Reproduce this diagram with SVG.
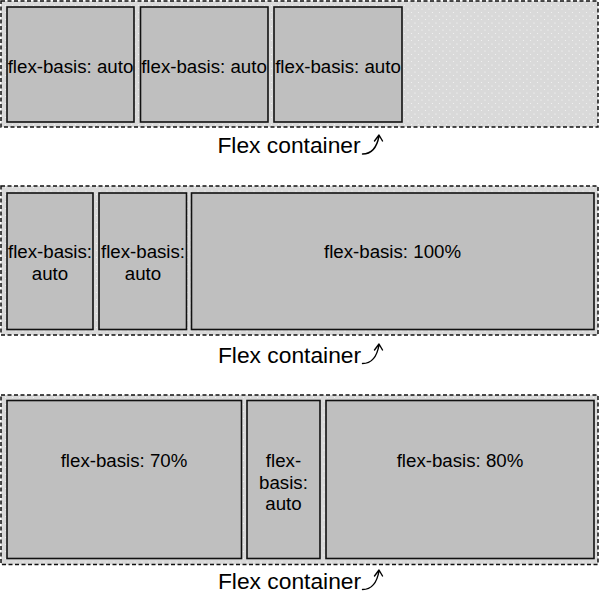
<svg xmlns="http://www.w3.org/2000/svg" width="600" height="594" viewBox="0 0 600 594">
<defs>
<pattern id="dots" width="7" height="7" patternUnits="userSpaceOnUse">
<rect width="7" height="7" fill="#d9d9d9"/>
<circle cx="2" cy="2" r="0.6" fill="#ffffff" opacity="0.9"/>
<circle cx="5.5" cy="5.5" r="0.6" fill="#ffffff" opacity="0.7"/>
</pattern>
<style>
.container{fill:url(#dots);stroke:#111;stroke-width:1.5;stroke-dasharray:4 2.5}
.item{fill:#bfbfbf;stroke:#111;stroke-width:1.6}
.t{font-family:"Liberation Sans",Arial,sans-serif;font-size:18.7px;fill:#000;text-anchor:middle}
.lbl{font-family:"Liberation Sans",Arial,sans-serif;font-size:22.8px;fill:#000;text-anchor:middle}
.arrow{fill:none;stroke:#000;stroke-width:1.4;stroke-linecap:round;stroke-linejoin:round}
</style>
</defs>
<rect width="600" height="594" fill="#ffffff"/>

<g id="container1">
<rect class="container" x="1" y="1" width="597" height="126"/>
<text class="lbl" x="289" y="153">Flex container</text>
</g>
<g id="c1-item1"><rect class="item" x="7" y="7" width="127" height="115"/><text class="t" x="70.5" y="72.5">flex-basis: auto</text></g>
<g id="c1-item2"><rect class="item" x="140.5" y="7" width="127.5" height="115"/><text class="t" x="204" y="72.5">flex-basis: auto</text></g>
<g id="c1-item3"><rect class="item" x="274" y="7" width="128" height="115"/><text class="t" x="338" y="72.5">flex-basis: auto</text></g>

<g id="container2">
<rect class="container" x="1" y="186" width="597" height="149"/>
<text class="lbl" x="289.5" y="362.5">Flex container</text>
</g>
<g id="c2-item1"><rect class="item" x="7" y="193" width="86" height="136.5"/><text class="t" x="50" y="258">flex-basis:</text><text class="t" x="50" y="279.5">auto</text></g>
<g id="c2-item2"><rect class="item" x="99" y="193" width="87.5" height="136.5"/><text class="t" x="143" y="258">flex-basis:</text><text class="t" x="143" y="279.5">auto</text></g>
<g id="c2-item3"><rect class="item" x="191.5" y="193" width="402.5" height="136.5"/><text class="t" x="392.5" y="258">flex-basis: 100%</text></g>

<g id="container3">
<rect class="container" x="1" y="395" width="597" height="169.5"/>
<text class="lbl" x="289.5" y="588.5">Flex container</text>
</g>
<g id="c3-item1"><rect class="item" x="7" y="400.5" width="234.5" height="158"/><text class="t" x="124" y="467">flex-basis: 70%</text></g>
<g id="c3-item2"><rect class="item" x="247" y="400.5" width="73" height="158"/><text class="t" x="283.5" y="467">flex-</text><text class="t" x="283.5" y="488.5">basis:</text><text class="t" x="283.5" y="510">auto</text></g>
<g id="c3-item3"><rect class="item" x="326" y="400.5" width="268" height="158"/><text class="t" x="460" y="467">flex-basis: 80%</text></g>

<g id="connectors">
<path class="arrow" d="M362.5,154 C372,154 377,147 379,136 M374.5,141 L379,135 L382.5,141"/>
<path class="arrow" d="M362.5,363.5 C372,363.5 377,356.5 379,345 M374.5,350 L379,344 L382.5,350"/>
<path class="arrow" d="M362.5,589.5 C372,589.5 377,582.5 379,571 M374.5,576 L379,570 L382.5,576"/>
</g>
</svg>
